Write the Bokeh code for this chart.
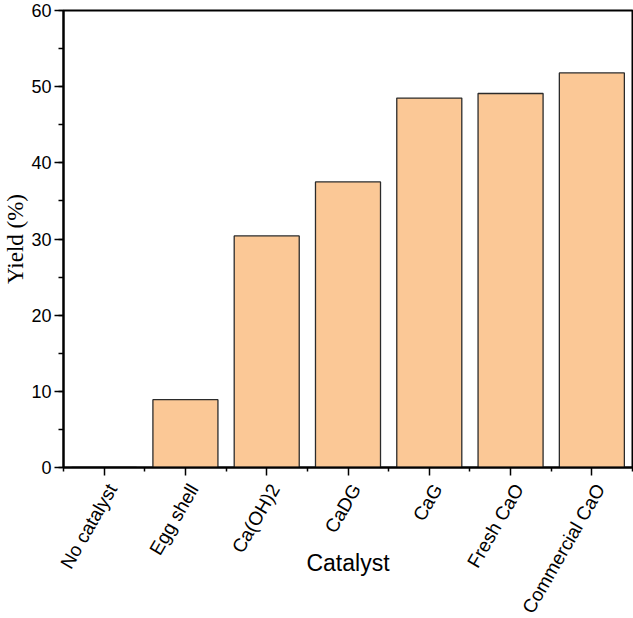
import math
from bokeh.plotting import figure
from bokeh.models import (Range1d, FixedTicker, SingleIntervalTicker, CustomJSTickFormatter,
                          LinearAxis, ColumnDataSource)
from bokeh.embed import file_html
from bokeh.resources import INLINE

# ---- data ----
categories = ["No catalyst", "Egg shell", "Ca(OH)2", "CaDG", "CaG", "Fresh CaO", "Commercial CaO"]
yield_pct = [0.0, 8.9, 30.4, 37.5, 48.5, 49.1, 51.8]
y_ticks = [0, 10, 20, 30, 40, 50, 60]
x_label = "Catalyst"
y_label = "Yield (%)"

n = len(categories)
xpos = [i + 0.5 for i in range(n)]
src = ColumnDataSource(dict(x=xpos, top=yield_pct, name=categories))

p = figure(width=633, height=618, output_backend="svg", toolbar_location=None,
           x_range=Range1d(0, n), y_range=Range1d(y_ticks[0], y_ticks[-1]),
           x_axis_location=None,
           min_border_left=63, min_border_right=1, min_border_top=10, min_border_bottom=151)
p.background_fill_color = "white"
p.border_fill_color = "white"
p.outline_line_color = "black"
p.outline_line_width = 2
p.xgrid.visible = False
p.ygrid.visible = False

p.vbar(x="x", top="top", width=0.8, bottom=0, source=src,
       fill_color="#FBC896", line_color="#2b2b2b", line_width=1.3)

# x axis: tick marks only
xa = LinearAxis(ticker=FixedTicker(ticks=xpos, minor_ticks=list(range(n + 1))),
                formatter=CustomJSTickFormatter(code="return '';"))
xa.major_label_standoff = 0
xa.axis_line_width = 2
xa.axis_line_color = "black"
xa.major_tick_out = 8
xa.major_tick_in = 0
xa.minor_tick_out = 4
xa.minor_tick_in = 0
xa.major_tick_line_width = 1.5
xa.minor_tick_line_width = 1.5
xa.major_tick_line_color = "black"
xa.minor_tick_line_color = "black"
p.add_layout(xa, "below")

# x axis: rotated category labels + axis title
xl = LinearAxis(ticker=FixedTicker(ticks=[x + 0.1 for x in xpos], minor_ticks=[]),
                formatter=CustomJSTickFormatter(args=dict(names=categories),
                                                code="return names[Math.round(tick - 0.6)];"))
xl.axis_line_color = None
xl.major_tick_line_color = None
xl.minor_tick_line_color = None
xl.major_tick_out = 0
xl.major_tick_in = 0
xl.minor_tick_out = 0
xl.minor_tick_in = 0
xl.major_label_orientation = math.radians(60)
xl.major_label_text_font = "Liberation Sans"
xl.major_label_text_font_size = "19px"
xl.major_label_text_color = "black"
xl.major_label_standoff = 10
xl.axis_label = x_label
xl.axis_label_text_font = "Liberation Sans"
xl.axis_label_text_font_size = "23px"
xl.axis_label_text_font_style = "normal"
xl.axis_label_text_color = "black"
xl.axis_label_standoff = -75
p.add_layout(xl, "below")

# y axis
ya = p.yaxis[0]
ya.ticker = SingleIntervalTicker(interval=10, num_minor_ticks=2)
ya.major_label_text_font = "Liberation Sans"
ya.major_label_text_font_size = "18px"
ya.major_label_text_color = "black"
ya.major_label_standoff = 3
ya.axis_line_width = 2
ya.axis_line_color = "black"
ya.major_tick_out = 9
ya.major_tick_in = 0
ya.minor_tick_out = 5
ya.minor_tick_in = 0
ya.major_tick_line_width = 1.5
ya.minor_tick_line_width = 1.5
ya.major_tick_line_color = "black"
ya.minor_tick_line_color = "black"
ya.axis_label = y_label
ya.axis_label_text_font = "Liberation Serif"
ya.axis_label_text_font_size = "23px"
ya.axis_label_text_font_style = "normal"
ya.axis_label_text_color = "black"
ya.axis_label_standoff = 0

open("out.html", "w").write(file_html(p, INLINE))
